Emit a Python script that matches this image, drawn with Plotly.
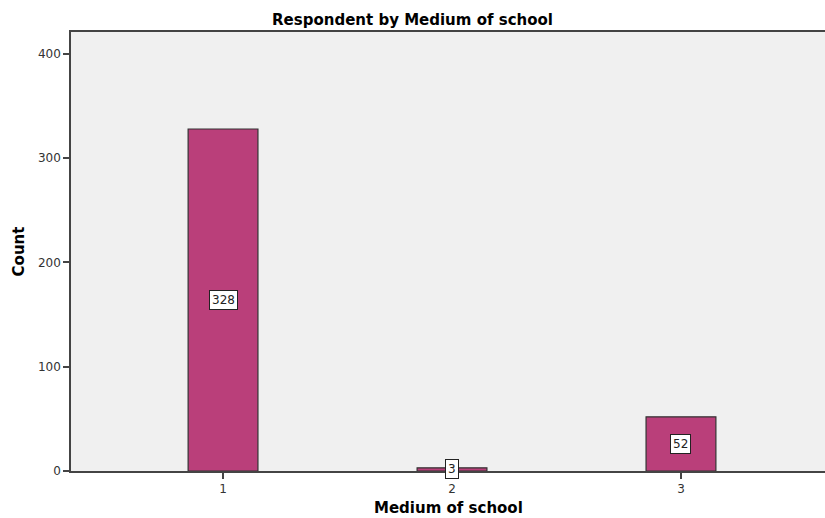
import plotly.graph_objects as go

categories = [1, 2, 3]
counts = [328, 3, 52]
y_ticks = [0, 100, 200, 300, 400]

bar_color = "#BA3F7A"
tick_font = dict(family="DejaVu Sans", size=12, color="#333333")
title_font = dict(family="DejaVu Sans", size=15, color="black")

fig = go.Figure()
fig.add_trace(go.Bar(
    x=categories, y=counts, width=0.305,
    marker=dict(color=bar_color, line=dict(color="#333333", width=1.2)),
    hoverinfo="skip",
))

for c, v in zip(categories, counts):
    fig.add_annotation(
        x=c, y=v / 2, text=str(v), showarrow=False,
        font=dict(family="DejaVu Sans", size=12, color="#222222"),
        bgcolor="white", bordercolor="#222222", borderwidth=1, borderpad=2,
    )

# x-axis title placed as a paper annotation
fig.add_annotation(
    x=0.5, xref="paper", y=-0.084, yref="paper", yanchor="middle",
    text="<b>Medium of school</b>", showarrow=False, font=title_font,
)

fig.update_layout(
    width=825, height=518,
    margin=dict(l=71, r=0, t=32, b=47),
    paper_bgcolor="white", plot_bgcolor="#F0F0F0",
    showlegend=False,
    title=dict(text="<b>Respondent by Medium of school</b>", x=0.5, xanchor="center",
               y=0.961, yanchor="middle", font=title_font),
    xaxis=dict(
        range=[0.336, 3.629], tickvals=categories, ticktext=[str(c) for c in categories],
        showline=True, linecolor="#444444", linewidth=1.5, mirror=True,
        ticks="outside", ticklen=6, tickcolor="#444444", tickwidth=1.5,
        showgrid=False, zeroline=False, tickfont=tick_font, automargin=False,
    ),
    yaxis=dict(
        range=[0, 421], tickvals=y_ticks,
        showline=True, linecolor="#444444", linewidth=1.5,
        ticks="outside", ticklen=6, tickcolor="#444444", tickwidth=1.5,
        showgrid=False, zeroline=False, tickfont=tick_font, automargin=False,
        title=dict(text="<b>Count</b>", standoff=10, font=title_font),
    ),
)

fig.write_html("out.html", config={"displayModeBar": False},
               post_script="document.body.style.margin='0';")
